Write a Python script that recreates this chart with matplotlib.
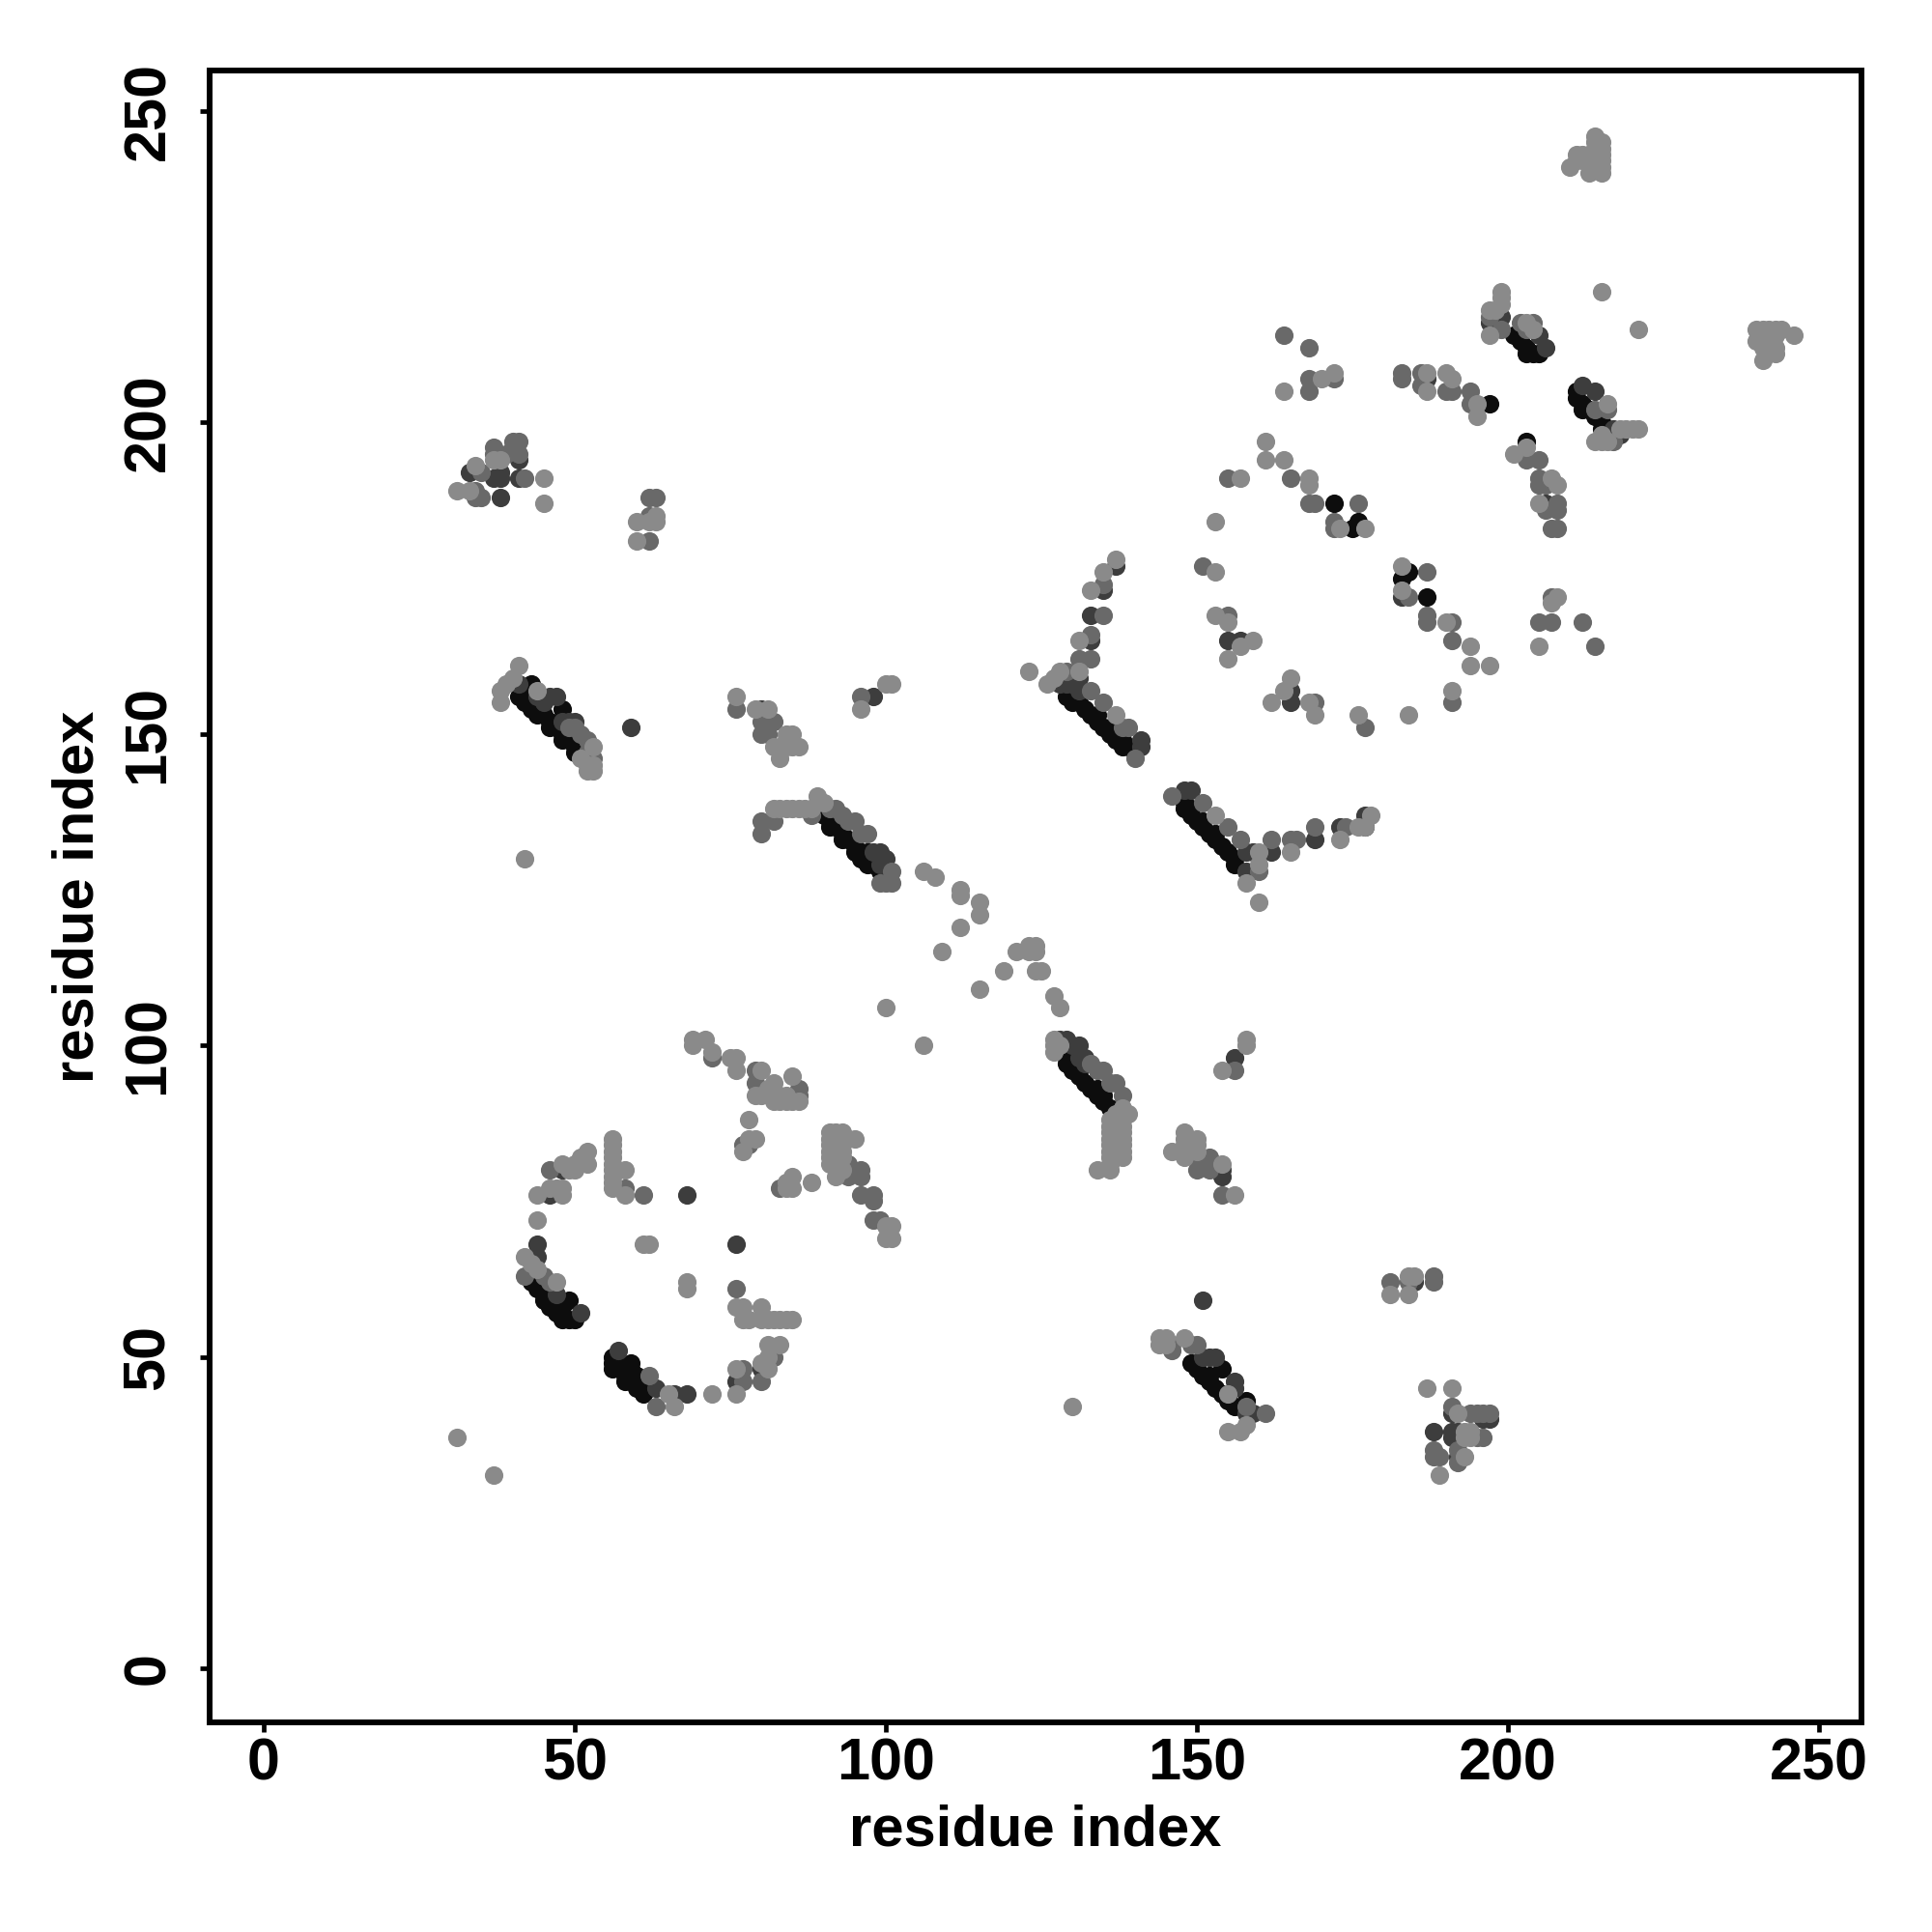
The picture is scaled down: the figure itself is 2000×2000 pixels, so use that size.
import numpy as np
import matplotlib
matplotlib.use("Agg")
import matplotlib.pyplot as plt

plt.rcParams['font.family'] = ['Liberation Sans', 'DejaVu Sans']

tick_values = [0, 50, 100, 150, 200, 250]
axis_label = "residue index"

black_pts = [
 (41,156),(42,155),(43,158),(43,155),(43,154),(44,154),(45,153),(46,152),(47,151),(48,154),(48,150),(49,149),(50,148),(51,147),(42,157),(44,153),(46,151),(48,149),(50,147),
 (90,137),(91,136),(92,135),(93,134),(94,133),(95,132),(96,131),(97,130),(98,129),(99,128),(100,127),(91,135),(93,133),(95,131),(97,129),(96,130),(97,131),
 (129,98),(129,97),(130,96),(131,95),(132,94),(133,93),(134,92),(135,91),(136,90),(130,97),(131,96),(134,93),(135,92),
 (149,49),(150,48),(151,47),(152,46),(153,45),(154,44),(155,43),(156,42),(154,48),(158,43),(150,49),(152,47),
 (43,62),(44,61),(45,60),(45,59),(46,58),(47,57),(48,56),(49,56),(50,56),(49,59),(48,58),(47,59),(46,59),
 (56,50),(56,49),(56,48),(57,49),(58,47),(58,46),(59,49),(59,48),(60,46),(60,45),(61,44),(62,45),(60,47),
 (130,156),(131,155),(132,154),(133,153),(134,152),(135,151),(136,150),(137,149),(138,148),(139,148),(140,148),(129,156),(130,155),(134,153),(136,151),(138,149),
 (148,139),(148,138),(149,137),(150,136),(151,135),(152,134),(153,133),(154,132),(155,131),(156,130),(156,129),(149,138),(151,136),(153,134),
 (184,176),(183,175),(187,172),(172,187),(175,183),(176,184),(197,203),(203,197),
 (201,214),(202,213),(203,212),(203,211),(204,211),(205,211),(211,205),(211,204),(212,203),(212,202),(213,202),(214,201),(215,200),(215,199),
]
dark_pts = [
 (41,158),(44,156),(46,156),(47,156),(49,152),(50,152),(45,155),(48,152),
 (98,131),(99,131),(100,130),(99,129),
 (128,101),(129,101),(130,100),(131,100),(131,98),(132,98),(132,97),
 (152,50),(153,50),(156,46),(156,45),(159,41),(158,41),(151,50),
 (154,80),(156,98),(151,59),(59,151),(98,156),(80,154),
 (191,41),(196,40),(191,38),(192,38),(191,37),(192,37),(192,34),(188,38),
 (44,68),(44,66),(68,76),(76,68),(51,57),(47,60),(46,76),(48,80),
 (57,51),(66,44),(68,44),(80,48),(76,46),(63,45),
 (131,159),(131,157),(133,169),(135,173),(137,177),(128,158),(129,158),(141,149),(141,148),(133,165),(130,158),
 (148,141),(149,141),(158,131),(159,131),(162,131),(158,128),(169,133),(173,135),(177,135),(177,137),
 (155,165),(157,165),(165,157),(165,155),(183,172),(187,207),(206,187),
 (38,191),(37,191),(41,191),(38,192),(38,188),(41,194),(33,192),
 (205,214),(206,212),(199,217),(197,216),(214,205),(217,199),(212,206),(217,198),(218,198),
 (154,79),(185,62),(197,40),
]
mid_pts = [
 (49,151),(50,151),(51,150),(52,149),(52,147),(52,146),(53,146),
 (91,138),(92,138),(94,136),(95,136),(96,134),(97,134),(101,128),(93,137),
 (134,96),(135,96),(136,94),(137,94),(138,92),(133,97),
 (146,52),(146,51),(150,52),(149,52),(161,41),(158,42),
 (152,82),(150,80),(152,80),(154,76),(156,96),(150,82),
 (181,62),(184,62),(188,63),(188,62),
 (191,42),(194,41),(195,41),(196,41),(197,41),(196,37),(195,37),(188,35),(188,34),(189,34),(192,35),(192,33),
 (42,63),(45,63),(46,62),(61,76),(76,61),(58,77),(62,47),(63,42),(77,46),(77,48),(80,46),(82,50),(46,80),
 (72,98),(79,96),(79,94),(86,93),(86,92),(78,84),(77,84),(83,77),(94,79),(96,79),(96,80),(96,76),(98,76),(98,75),(98,72),(94,81),(99,72),
 (80,136),(80,134),(82,136),(88,137),(146,140),(151,139),(155,135),(157,133),(160,128),(162,133),(165,133),(166,133),(169,135),(174,135),
 (101,126),(100,126),(99,126),(129,160),(131,162),(133,162),(133,166),(135,169),(135,174),(133,157),(135,155),(139,151),(138,151),(140,146),
 (151,177),(155,169),(169,155),(177,151),(191,155),(187,176),(184,172),(187,169),(187,168),(191,168),(191,165),
 (164,214),(168,212),(168,207),(168,205),(172,207),(183,208),(183,207),(186,208),(186,206),(190,205),(191,205),(194,205),(194,203),
 (203,194),(205,194),(205,191),(205,190),(206,190),(208,187),(208,186),(206,186),(207,183),(208,183),(207,172),(205,168),(207,168),(212,168),(214,164),
 (155,191),(165,191),(168,187),(169,187),(176,187),(172,184),(172,183),
 (37,196),(37,195),(40,197),(41,197),(41,195),(42,191),(35,192),(34,189),(35,188),(34,188),(39,195),(40,196),
 (62,188),(63,188),(62,185),(62,181),(76,154),(80,152),(80,150),(81,150),(82,152),(96,156),
 (203,215),(202,216),(204,216),(216,202),(214,202),(217,197),(199,215),(197,217),
]
light_pts = [
 (41,161),(38,155),(38,157),(39,158),(40,159),(44,157),(53,148),(51,146),(53,145),(53,144),(52,144),(52,145),(42,130),
 (31,189),(34,193),(38,194),(37,194),(45,191),(45,187),(33,189),
 (60,184),(60,181),(63,185),(63,184),(62,184),
 (76,156),(79,154),(81,154),(85,150),(84,150),(86,148),(82,148),(83,148),(85,148),(84,148),(83,146),(84,149),
 (96,154),(100,158),(101,158),
 (82,138),(83,138),(84,138),(85,138),(86,138),(87,138),(88,138),(89,140),(89,139),(90,139),
 (106,128),(108,127),(112,125),(112,124),(115,123),(115,121),(112,119),(109,115),(121,115),(123,115),(124,115),(123,116),(124,116),(119,112),(115,109),
 (124,112),(125,112),(127,108),(128,106),(100,106),(106,100),
 (127,101),(127,100),(127,99),(128,100),(137,89),(139,89),(138,90),
 (136,88),(137,88),(138,88),(136,87),(137,87),(138,87),(136,86),(137,86),(138,86),(136,85),(137,85),(138,85),(136,84),(137,84),(138,84),(136,83),(137,83),(138,83),(136,82),(137,82),(138,82),(134,80),(136,80),(136,81),
 (148,86),(148,85),(148,84),(150,85),(150,84),(146,83),(148,83),(150,83),(148,82),(154,81),(156,76),(158,101),(158,100),(154,96),
 (144,53),(144,52),(145,53),(145,52),(148,53),(155,44),(155,38),(157,38),(158,39),(130,42),
 (181,60),(184,60),(184,63),(185,63),
 (187,45),(191,45),(192,41),(194,38),(194,37),(193,34),(189,31),(193,38),(193,37),
 (31,37),(37,31),(44,72),(42,66),(44,64),(47,62),(43,65),(61,68),(62,68),(68,62),(68,61),
 (65,44),(66,42),(72,44),(76,44),(76,48),(81,48),(80,49),(81,50),(81,52),(83,52),
 (77,56),(78,56),(80,56),(81,56),(82,56),(83,56),(84,56),(85,56),(76,58),(77,58),(80,58),
 (44,76),(46,77),(47,77),(48,77),(48,76),(48,81),(50,81),(50,80),(52,83),(52,81),(49,80),(51,82),
 (56,85),(56,84),(56,83),(56,82),(56,81),(56,80),(56,79),(56,78),(56,77),(58,80),(58,76),
 (69,101),(71,101),(69,100),(72,99),(75,98),(76,98),(76,96),(80,96),(82,94),(85,95),(79,92),(81,93),(84,92),
 (82,91),(83,91),(84,91),(85,91),(86,91),(80,92),(82,92),(83,92),
 (78,88),(79,85),(77,83),(78,85),(85,79),(84,78),(85,77),(84,77),(88,78),
 (91,86),(91,85),(91,84),(91,83),(91,82),(91,81),(92,86),(92,85),(92,84),(93,86),(93,85),(94,85),(95,85),(93,82),(93,83),(92,79),(92,81),(93,80),
 (100,71),(101,71),(100,69),(101,69),
 (123,160),(126,158),(128,160),(127,159),(131,160),(131,165),(133,173),(135,176),(137,178),(137,153),
 (153,137),(160,131),(160,129),(158,126),(160,123),(165,131),(173,133),(176,135),(178,137),(177,135),
 (153,176),(153,169),(155,168),(157,164),(159,165),(155,162),(165,159),(164,157),(162,155),(168,155),(169,153),(176,153),(184,153),(191,157),
 (183,177),(183,173),(190,168),(194,164),(194,161),(197,161),
 (214,246),(214,245),(215,245),(215,244),(215,243),(215,242),(215,241),(215,240),(213,240),(214,241),(213,242),(212,243),(211,243),(212,242),(210,241),(211,242),(213,243),(214,242),(214,243),(214,244),
 (199,221),(199,220),(199,219),(197,218),(197,214),(198,218),(203,216),(204,215),
 (216,203),(214,197),(216,197),(218,199),(219,199),(220,199),(221,199),(215,221),(221,215),(215,197),(215,198),
 (240,215),(241,215),(242,215),(243,215),(244,215),(246,214),(240,213),(241,213),(243,214),(242,214),(243,212),(241,210),(243,211),(242,212),(241,212),(242,213),(242,211),
 (164,205),(170,207),(172,208),(187,208),(187,205),(190,208),(191,207),(195,201),(195,203),
 (203,196),(201,195),(207,191),(208,190),(205,187),(208,172),(207,171),(205,164),
 (161,197),(161,194),(164,194),(168,191),(168,190),(173,183),(177,183),(153,184),(157,191),
]

point_groups = [(black_pts, '0.05'), (dark_pts, '0.24'), (mid_pts, '0.41'), (light_pts, '0.54')]

fig = plt.figure(figsize=(20, 20), dpi=100, facecolor='white')
L, R, T, B = 217, 1927, 73, 1783
ax = fig.add_axes([L/2000, 1 - B/2000, (R - L)/2000, (B - T)/2000])

for pts, shade in point_groups:
    arr = np.array(pts)
    ax.scatter(arr[:, 0], arr[:, 1], s=190, c=shade, linewidths=0, zorder=2)

ax.set_xlim(-8.7, 256.85)
ax.set_ylim(-8.7, 256.5)
for sp in ax.spines.values():
    sp.set_linewidth(4.3)
    sp.set_color('black')

ax.set_xticks(tick_values)
ax.set_yticks(tick_values)
ax.tick_params(axis='both', length=7.5, width=3.4, color='black', direction='out')
ax.tick_params(axis='x', pad=3.5)
ax.tick_params(axis='y', pad=17)
for t in ax.get_xticklabels():
    t.set_fontsize(44); t.set_fontweight('bold')
for t in ax.get_yticklabels():
    t.set_fontsize(44); t.set_fontweight('bold')
    t.set_rotation(90); t.set_va('center'); t.set_ha('right')

ax.set_xlabel(axis_label, fontsize=43, fontweight='bold')
ax.set_ylabel(axis_label, fontsize=43, fontweight='bold')
ax.xaxis.set_label_coords((1072 - L)/(R - L), 1 - (1895 - T)/(B - T), transform=ax.transAxes)
ax.yaxis.set_label_coords((81 - L)/(R - L), 1 - (928 - T)/(B - T), transform=ax.transAxes)
ax.xaxis.label.set_va('center')
ax.yaxis.label.set_va('center')

fig.savefig('out.png', dpi=100, facecolor='white')
